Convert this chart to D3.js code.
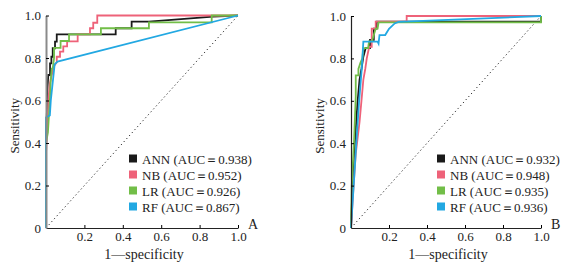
<!DOCTYPE html>
<html>
<head>
<meta charset="utf-8">
<script src="https://cdn.jsdelivr.net/npm/d3@7"></script>
<style>
  body { margin: 0; background: #fff; }
  text { font-family: "Liberation Serif", "Times New Roman", serif; fill: #222; }
</style>
</head>
<body>
<div id="chart"></div>
<script>
// ROC points [1-specificity, sensitivity]
const models = ["ANN", "NB", "LR", "RF"];
const colors = ["#1a1a1a", "#ee6279", "#72be48", "#22a8e2"];
const tickValues = [0.2, 0.4, 0.6, 0.8, 1.0];

const aucA = ["0.938", "0.952", "0.926", "0.867"];
const aucB = ["0.932", "0.948", "0.935", "0.936"];

const annA = [[0,0],[0,0.45],[0.005,0.55],[0.007,0.65],[0.012,0.72],[0.021,0.72],[0.021,0.775],[0.028,0.775],[0.028,0.806],[0.035,0.806],[0.035,0.846],[0.047,0.846],[0.047,0.877],[0.056,0.877],[0.056,0.911],[0.363,0.911],[0.363,0.94],[0.446,0.94],[0.446,0.971],[0.536,0.971],[0.87,0.995],[1,1]];
const nbA = [[0,0],[0,0.35],[0.008,0.5],[0.012,0.6],[0.02,0.68],[0.03,0.72],[0.04,0.76],[0.056,0.78],[0.056,0.806],[0.073,0.806],[0.073,0.83],[0.09,0.83],[0.09,0.855],[0.11,0.855],[0.11,0.878],[0.165,0.878],[0.165,0.911],[0.229,0.911],[0.229,0.94],[0.246,0.94],[0.246,0.966],[0.267,0.966],[0.267,1],[1,1]];
const lrA = [[0,0],[0,0.4],[0.01,0.45],[0.02,0.6],[0.025,0.7],[0.03,0.75],[0.035,0.75],[0.042,0.8],[0.042,0.848],[0.076,0.848],[0.076,0.88],[0.12,0.88],[0.12,0.911],[0.286,0.911],[0.286,0.94],[0.536,0.94],[0.536,0.968],[0.863,0.968],[0.863,1],[1,1]];
const rfA = [[0,0],[0,0.52],[0.02,0.53],[0.025,0.6],[0.045,0.77],[0.06,0.783],[1,1]];

const annB = [[0,0],[0.008,0.2],[0.02,0.4],[0.035,0.6],[0.045,0.7],[0.055,0.75],[0.065,0.808],[0.077,0.848],[0.1,0.848],[0.1,0.887],[0.12,0.887],[0.12,0.94],[0.135,0.94],[0.135,0.973],[1,0.973],[1,1]];
const nbB = [[0,0],[0.01,0.15],[0.025,0.35],[0.045,0.5],[0.055,0.6],[0.065,0.7],[0.075,0.75],[0.083,0.8],[0.09,0.83],[0.096,0.855],[0.109,0.855],[0.109,0.94],[0.13,0.94],[0.13,0.973],[0.293,0.973],[0.293,1],[1,1]];
const lrB = [[0,0],[0.004,0.2],[0.017,0.43],[0.025,0.62],[0.025,0.72],[0.039,0.72],[0.039,0.75],[0.05,0.78],[0.06,0.8],[0.065,0.848],[0.09,0.848],[0.095,0.88],[0.11,0.88],[0.12,0.91],[0.13,0.94],[0.14,0.94],[0.145,0.97],[1,0.97],[1,1]];
const rfB = [[0,0],[0.012,0.17],[0.03,0.43],[0.042,0.59],[0.056,0.745],[0.065,0.879],[0.14,0.879],[0.145,0.87],[0.15,0.91],[0.18,0.91],[0.2,0.94],[0.23,0.965],[0.25,0.972],[1,1]];

const width = 575, height = 267;
const svg = d3.select("#chart").append("svg")
  .attr("width", width)
  .attr("height", height);

function drawPanel(opts) {
  const x = d3.scaleLinear().domain([0, 1]).range([opts.x0, opts.x1]);
  const y = d3.scaleLinear().domain([0, 1]).range([opts.y0, opts.y1]);
  const g = svg.append("g");

  // diagonal reference
  g.append("line")
    .attr("x1", x(0)).attr("y1", y(0))
    .attr("x2", x(1)).attr("y2", y(1))
    .attr("stroke", "#222")
    .attr("stroke-width", 1)
    .attr("stroke-dasharray", "1.2,2.8");

  // curves
  const line = d3.line().x(d => x(d[0])).y(d => y(d[1]));
  opts.series.forEach((s, i) => {
    g.append("path")
      .attr("d", line(s))
      .attr("fill", "none")
      .attr("stroke", colors[i])
      .attr("stroke-width", 1.8)
      .attr("stroke-linejoin", "miter");
  });

  // x axis
  const xAxis = g.append("g")
    .attr("transform", `translate(0,${opts.y0})`)
    .call(d3.axisBottom(x).tickValues(tickValues).tickFormat(d3.format(".1f")).tickSizeInner(-3).tickSizeOuter(0).tickPadding(4));
  xAxis.select(".domain").attr("stroke", "#222").attr("stroke-width", 1.2);
  xAxis.selectAll("text").style("font-size", "13px").style("font-family", "Liberation Serif");

  // y axis
  const yAxis = g.append("g")
    .attr("transform", `translate(${opts.x0},0)`)
    .call(d3.axisLeft(y).tickValues([0, 0.2, 0.4, 0.6, 0.8, 1.0])
      .tickFormat(d => d === 0 ? "0" : d3.format(".1f")(d))
      .tickSizeInner(-3).tickSizeOuter(0).tickPadding(5));
  yAxis.select(".domain").attr("stroke", opts.yAxisColor).attr("stroke-width", opts.yAxisWidth);
  yAxis.selectAll("text").style("font-size", "13px").style("font-family", "Liberation Serif");
  yAxis.selectAll(".tick line").filter(d => d === 0).remove();

  // axis titles
  g.append("text")
    .attr("transform", `translate(${opts.x0 - 27},${(opts.y0 + opts.y1) / 2 + 4}) rotate(-90)`)
    .attr("text-anchor", "middle")
    .style("font-size", "13px")
    .text("Sensitivity");

  g.append("text")
    .attr("x", (opts.x0 + opts.x1) / 2 + 2)
    .attr("y", opts.y0 + 31)
    .attr("text-anchor", "middle")
    .style("font-size", "14px")
    .text("1—specificity");

  // panel letter
  g.append("text")
    .attr("x", opts.x1 + 10)
    .attr("y", opts.y0 + 1)
    .style("font-size", "14px")
    .text(opts.letter);

  // legend
  const leg = g.append("g").attr("transform", `translate(${opts.legX},${opts.legY})`);
  models.forEach((m, i) => {
    const row = leg.append("g").attr("transform", `translate(0,${i * 16})`);
    row.append("rect")
      .attr("x", 0).attr("y", -4.5)
      .attr("width", 8).attr("height", 8)
      .attr("fill", colors[i]);
    row.append("text")
      .attr("x", 13).attr("y", 4.5)
      .style("font-size", "13px")
      .text(`${m} (AUC＝${opts.auc[i]})`);
  });
}

drawPanel({
  x0: 46, x1: 238, y0: 228, y1: 15.5,
  series: [annA, nbA, lrA, rfA],
  auc: aucA, letter: "A",
  yAxisColor: "#8a8a8a", yAxisWidth: 2,
  legX: 129, legY: 159
});

drawPanel({
  x0: 351, x1: 541, y0: 228, y1: 16,
  series: [annB, nbB, lrB, rfB],
  auc: aucB, letter: "B",
  yAxisColor: "#222", yAxisWidth: 1.2,
  legX: 437, legY: 159
});
</script>
</body>
</html>
